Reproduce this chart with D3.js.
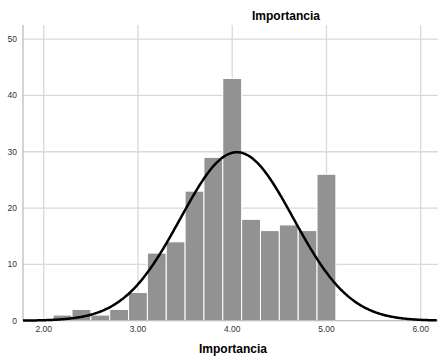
<!DOCTYPE html>
<html><head><meta charset="utf-8">
<script src="https://cdn.jsdelivr.net/npm/d3@7/dist/d3.min.js"></script>
<style>body{margin:0;background:#fff}svg{display:block}</style>
</head><body><svg id="c" width="438" height="358"></svg>
<script>
const binStarts = [2.1,2.3,2.5,2.7,2.9,3.1,3.3,3.5,3.7,3.9,4.1,4.3,4.5,4.7,4.9];
const counts    = [1,2,1,2,5,12,14,23,29,43,18,16,17,16,26];
const binWidth = 0.2;
const xTicks = [2,3,4,5,6];
const yTicks = [0,10,20,30,40,50];
const curveMean = 4.05, curveSd = 0.6;
const title = "Importancia", xLabel = "Importancia";

const svg = d3.select("#c");
const x = d3.scaleLinear().domain([1.78, 6.173]).range([23, 437]);
const y = d3.scaleLinear().domain([0, 52.5]).range([320.7, 25]);
const font = "'Liberation Sans', Arial, sans-serif";

// grid
svg.append("g").selectAll("line.gy").data(yTicks.slice(1)).join("line")
  .attr("x1", 23).attr("x2", 438).attr("y1", d=>y(d)).attr("y2", d=>y(d))
  .attr("stroke", "#d9d9d9").attr("stroke-width", 1.3);
svg.append("g").selectAll("line.gx").data(xTicks).join("line")
  .attr("x1", d=>x(d)).attr("x2", d=>x(d)).attr("y1", 25).attr("y2", 320.7)
  .attr("stroke", "#d9d9d9").attr("stroke-width", 1.3);

// bars
svg.append("g").selectAll("rect").data(binStarts).join("rect")
  .attr("x", d=>x(d)).attr("width", x(binWidth)-x(0))
  .attr("y", (d,i)=>y(counts[i])).attr("height", (d,i)=>y(0)-y(counts[i]))
  .attr("fill", "#929292").attr("stroke", "#ffffff").attr("stroke-width", 1);

// axes lines
svg.append("line").attr("x1",23).attr("x2",23).attr("y1",25).attr("y2",320.7)
  .attr("stroke","#bdbdbd").attr("stroke-width",1.3);
svg.append("line").attr("x1",23).attr("x2",438).attr("y1",320.7).attr("y2",320.7)
  .attr("stroke","#bdbdbd").attr("stroke-width",1.3);

// normal curve
const N = d3.sum(counts);
const pts = d3.range(1.78, 6.18, 0.01).map(v => [v, N*binWidth/(curveSd*Math.sqrt(2*Math.PI))*Math.exp(-0.5*((v-curveMean)/curveSd)**2)]);
svg.append("path").datum(pts)
  .attr("d", d3.line().x(d=>x(d[0])).y(d=>y(d[1])).curve(d3.curveBasis))
  .attr("fill","none").attr("stroke","#000").attr("stroke-width",2.5);

// tick labels
svg.append("g").selectAll("text").data(yTicks).join("text")
  .attr("x", 17).attr("y", d=>y(d)).attr("dy","0.35em").attr("text-anchor","end")
  .attr("font-family", font).attr("font-size", 8.5).attr("fill","#333").text(d=>d);
svg.append("g").selectAll("text").data(xTicks).join("text")
  .attr("x", d=>x(d)).attr("y", 332).attr("text-anchor","middle")
  .attr("font-family", font).attr("font-size", 8.5).attr("fill","#333").text(d=>d3.format(".2f")(d));

svg.append("text").attr("x", 286).attr("y", 19.5).attr("text-anchor","middle")
  .attr("font-family", font).attr("font-weight","bold").attr("font-size", 12).text(title);
svg.append("text").attr("x", 233).attr("y", 353).attr("text-anchor","middle")
  .attr("font-family", font).attr("font-weight","bold").attr("font-size", 12).text(xLabel);
</script></body></html>
